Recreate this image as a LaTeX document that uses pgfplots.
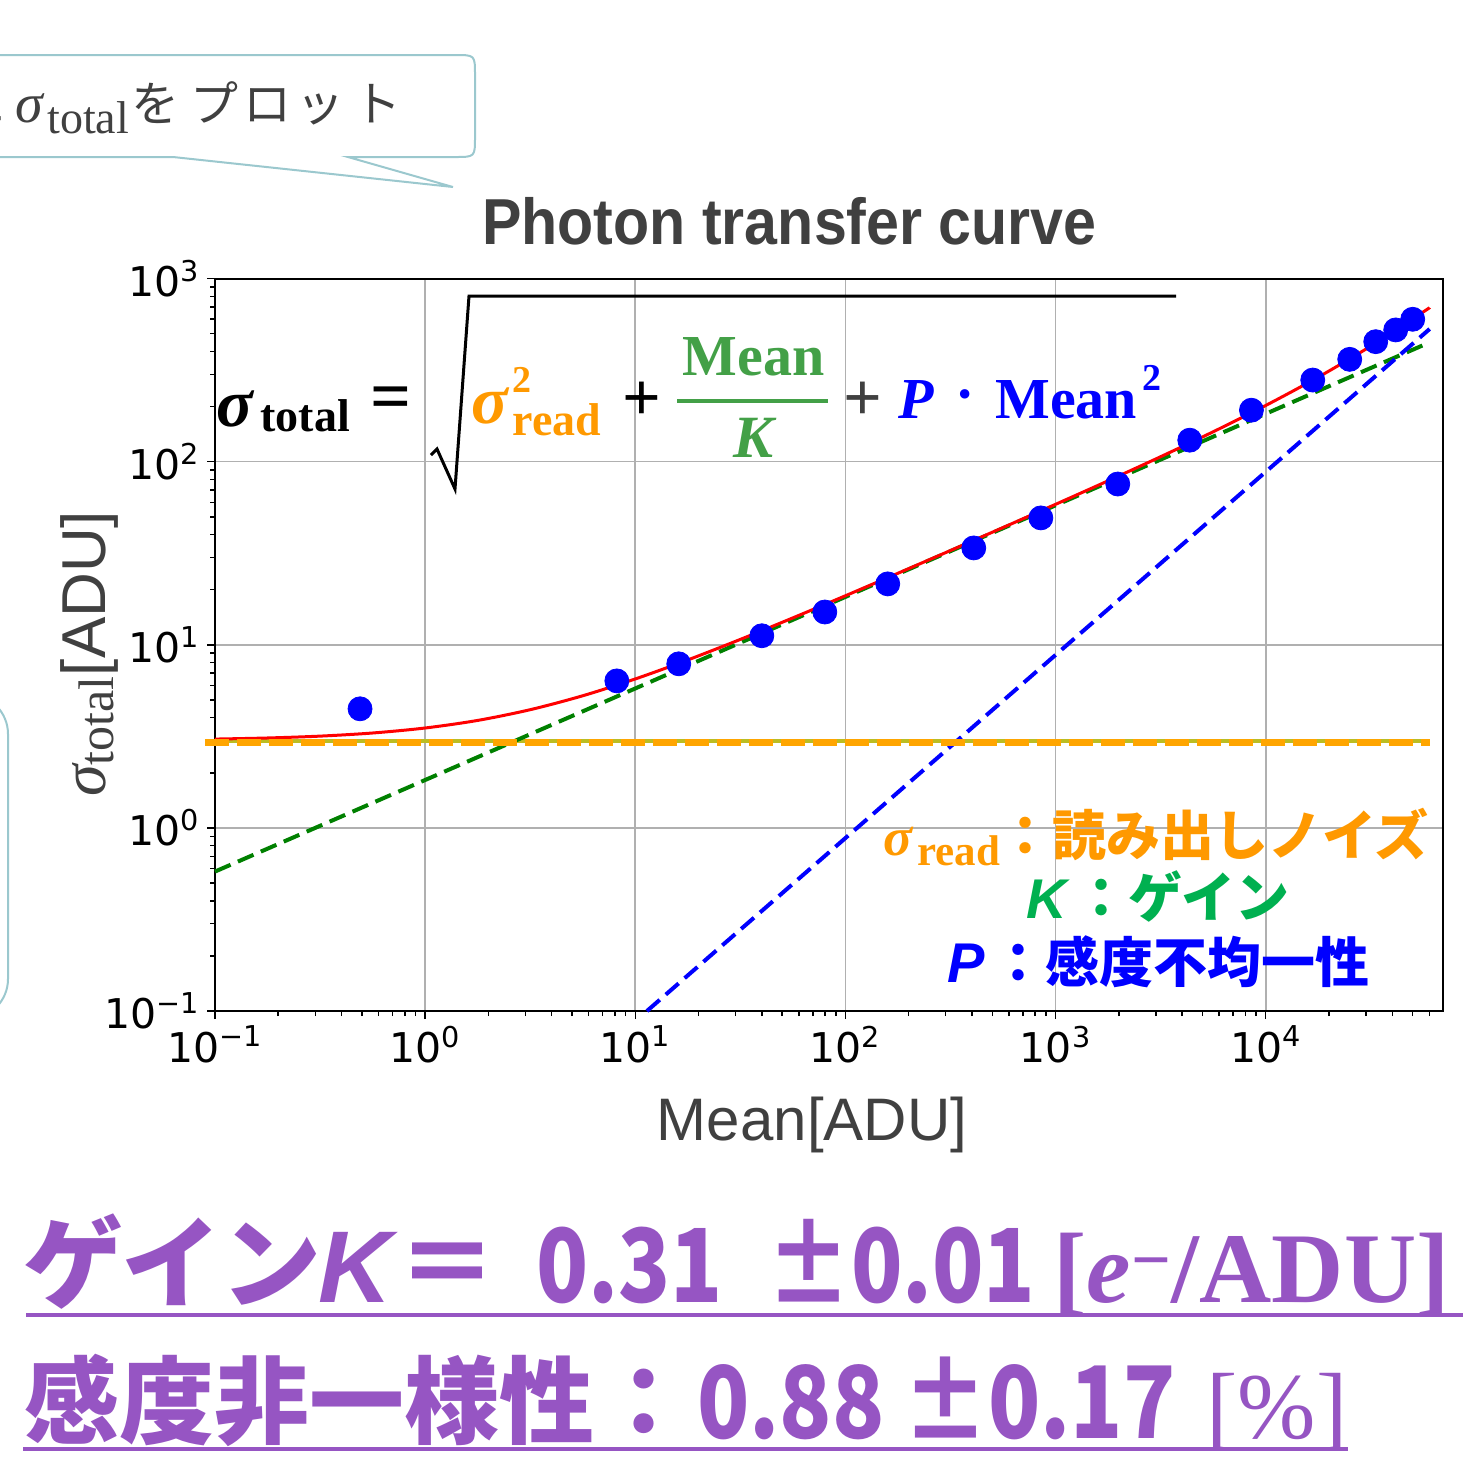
\documentclass[border=0pt]{standalone}
\usepackage{pgfplots}
\pgfplotsset{compat=1.18}
\usepackage{fontspec}
\setmainfont{Liberation Sans}
\newfontfamily\serif{Liberation Serif}
\newfontfamily\dejavu{DejaVu Sans}
\newfontfamily\jp{Noto Sans CJK JP}
\definecolor{gr4}{RGB}{64,64,64}
\definecolor{teal2}{RGB}{155,200,206}
\definecolor{orgT}{RGB}{255,153,0}
\definecolor{orgL}{RGB}{255,165,0}
\definecolor{grT}{RGB}{67,160,71}
\definecolor{grK}{RGB}{0,176,80}
\definecolor{grL}{RGB}{0,128,0}
\definecolor{purp}{RGB}{150,85,195}
\definecolor{olive2}{RGB}{188,189,34}
\definecolor{gridc}{RGB}{176,176,176}
\newcommand{\fsz}[1]{\fontsize{#1pt}{#1pt}\selectfont}
\begin{document}
\begin{tikzpicture}
\useasboundingbox (0,0) rectangle (731.5pt,-728.5pt);
\begin{axis}[at={(107.5pt,-505.5pt)}, anchor=south west,
  width=614pt, height=366.25pt, scale only axis,
  xmode=log, ymode=log, xmin=0.1, xmax=69750, ymin=0.1, ymax=1000,
  xtick={0.1,1,10,100,1000,10000},
  xticklabels={{10\textsuperscript{−1}},{10\textsuperscript{0}},{10\textsuperscript{1}},{10\textsuperscript{2}},{10\textsuperscript{3}},{10\textsuperscript{4}}},
  ytick={0.1,1,10,100,1000},
  yticklabels={{10\textsuperscript{−1}},{10\textsuperscript{0}},{10\textsuperscript{1}},{10\textsuperscript{2}},{10\textsuperscript{3}}},
  minor xtick={0.2,0.3,0.4,0.5,0.6,0.7,0.8,0.9,2,3,4,5,6,7,8,9,20,30,40,50,60,70,80,90,200,300,400,500,600,700,800,900,2000,3000,4000,5000,6000,7000,8000,9000,20000,30000,40000,50000,60000},
  minor ytick={0.2,0.3,0.4,0.5,0.6,0.7,0.8,0.9,2,3,4,5,6,7,8,9,20,30,40,50,60,70,80,90,200,300,400,500,600,700,800,900},
  tick align=outside, xtick pos=left, ytick pos=left,
  major tick length=4pt, minor tick length=2.5pt,
  every tick/.style={black, line width=0.75pt},
  grid=major, major grid style={gridc, line width=0.8pt},
  axis line style={line width=1pt},
  tick label style={font=\dejavu\fsz{20.5}, black},
  clip=false,
]
\addplot[only marks, mark=*, mark size=6pt, mark options={draw=blue, fill=blue}] coordinates {
(0.490,4.47) (8.17,6.35) (16.1,7.87) (40.0,11.2) (79.8,15.1) (159,21.5) (408,33.8) (851,49.3)
(1977,75.5) (4350,131) (8550,191) (16740,279) (25100,362) (33380,452) (41540,524) (50050,599)};
\addplot[olive2, line width=2pt] coordinates {(0.1,2.97) (60256,2.97)};
\addplot[grL, line width=2pt, dash pattern=on 8.5pt off 4pt] coordinates {(0.1,0.5774) (60256,448.2)};
\addplot[blue, line width=2pt, dash pattern=on 8.5pt off 4pt] coordinates {(11.36,0.1) (60256,530.3)};
\addplot[red, line width=1.5pt, smooth] coordinates {
(0.1,3.0551) (0.17783,3.0972) (0.31623,3.1708) (0.56234,3.2977) (1,3.5119) (1.7783,3.8636)
(3.1623,4.4205) (5.6234,5.2673) (10,6.5070) (17.783,8.2645) (31.623,10.700) (56.234,14.025)
(100,18.523) (177.83,24.581) (316.23,32.724) (562.34,43.680) (1000,58.479) (1778.3,78.623)
(3162.3,106.42) (5623.4,145.61) (10000,202.70) (17783,289.44) (31623,427.62) (56234,657.53) (60256,694.28)};
\addplot[orgL, line width=3.5pt, dash pattern=on 12pt off 4pt] coordinates {(0.0896,2.91) (60256,2.91)};
\end{axis}
\begin{scope}[x=0.5pt, y=-0.5pt]
% top callout
\draw[teal2, line width=1pt, fill=white] (-40,55) -- (455,55) .. controls (475,55) .. (475,75) -- (475,137) .. controls (475,157) .. (455,157) -- (348,157) -- (453,187) -- (173,157) -- (-40,157) -- cycle;
\node[anchor=base, inner sep=0, text=gr4, font=\jp\fsz{23}] at (-14,120) {と};
\node[anchor=base west, inner sep=0, text=gr4, font=\serif\itshape\fsz{28}] at (15,122) {σ};
\node[anchor=base west, inner sep=0, text=gr4, font=\serif\fsz{23}] at (47,133) {total};
\foreach \c/\x in {を/155,プ/214,ロ/267,ッ/320,ト/377}{
  \node[anchor=base, inner sep=0, text=gr4, font=\jp\fsz{24}] at (\x,121) {\c};}
% left callout
\draw[teal2, line width=1pt] (-60,694) -- (-32,694) .. controls (-10,694) and (8,712) .. (8,734) -- (8,979) .. controls (8,1001) and (-10,1019) .. (-32,1019) -- (-60,1019);
% title
\node[anchor=base, inner sep=0, text=gr4, font=\bfseries\fsz{32.5}] at (789.5,244) {\scalebox{0.91}[1]{Photon transfer curve}};
% axis labels
\node[anchor=base, inner sep=0, text=gr4, font=\fsz{30}] at (812,1140) {Mean[ADU]};
\node[anchor=base west, rotate=90, inner sep=0, text=gr4, font=\fsz{31}] at (105,797) {{\serif\itshape\fsz{32}σ}\raisebox{-4pt}{\serif\fsz{25}total}[ADU]};
% formula
\draw[black, line width=1.5pt] (431,455) -- (437,449) -- (455,489) -- (469,296) -- (1176,296);
\node[anchor=base west, inner sep=0, font=\serif\bfseries\itshape\fsz{34}] at (216,426) {σ};
\node[anchor=base west, inner sep=0, font=\serif\bfseries\fsz{23}] at (260,431) {total};
\node[anchor=base, inner sep=0, font=\serif\bfseries\fsz{36}] at (391,420) {=};
\node[anchor=base west, inner sep=0, text=orgT, font=\serif\bfseries\itshape\fsz{34}] at (471,423) {σ};
\node[anchor=base west, inner sep=0, text=orgT, font=\serif\bfseries\fsz{19}] at (512,392) {2};
\node[anchor=base west, inner sep=0, text=orgT, font=\serif\bfseries\fsz{23}] at (512,435) {read};
\node[anchor=base, inner sep=0, font=\serif\bfseries\fsz{34}] at (642,420) {+};
\draw[grT, line width=2pt] (677,401) -- (828,401);
\node[anchor=base, inner sep=0, text=grT, font=\serif\bfseries\fsz{29}] at (753.5,375) {Mean};
\node[anchor=base, inner sep=0, text=grT, font=\serif\bfseries\itshape\fsz{30}] at (753.5,457) {K};
\node[anchor=base, inner sep=0, text=gr4, font=\serif\bfseries\fsz{34}] at (863,420) {+};
\node[anchor=base west, inner sep=0, text=blue, font=\serif\bfseries\itshape\fsz{29}] at (898,418) {P};
\node[anchor=base, inner sep=0, text=blue, font=\serif\bfseries\fsz{29}] at (965,413) {·};
\node[anchor=base west, inner sep=0, text=blue, font=\serif\bfseries\fsz{29}] at (995,418) {Mean};
\node[anchor=base west, inner sep=0, text=blue, font=\serif\bfseries\fsz{19}] at (1142,390) {2};
% legend text
\node[anchor=base west, inner sep=0, text=orgT, font=\serif\bfseries\itshape\fsz{27}] at (883,855) {σ};
\node[anchor=base west, inner sep=0, text=orgT, font=\serif\bfseries\fsz{21.5}] at (917,865) {read};
\node[anchor=base east, inner sep=0, text=orgT, font=\jp\bfseries\fsz{27}] at (1429,855) {：読み出しノイズ};
\node[anchor=base west, inner sep=0, text=grK, font=\bfseries\itshape\fsz{28}] at (1026,918) {K};
\node[anchor=base east, inner sep=0, text=grK, font=\jp\bfseries\fsz{27}] at (1290,917) {：ゲイン};
\node[anchor=base west, inner sep=0, text=blue, font=\bfseries\itshape\fsz{28}] at (947,982) {P};
\node[anchor=base east, inner sep=0, text=blue, font=\jp\bfseries\fsz{27}] at (1370,982) {：感度不均一性};
% bottom text
\node[anchor=base west, inner sep=0, text=purp, font=\jp\bfseries\fsz{50}] at (23,1300) {ゲイン};
\node[anchor=base west, inner sep=0, text=purp, font=\bfseries\itshape\fsz{51}] at (318,1302) {K};
\node[anchor=base, inner sep=0, text=purp, font=\jp\bfseries\fsz{50}] at (447,1300) {＝};
\node[anchor=base west, inner sep=0, text=purp, font=\jp\bfseries\fsz{51}] at (536,1302) {\scalebox{0.84}[1]{0.31}};
\node[anchor=base west, inner sep=0, text=purp, font=\jp\bfseries\fsz{51}] at (766,1302) {\scalebox{0.83}[1]{±0.01}};
\node[anchor=base west, inner sep=0, text=purp, font=\serif\bfseries\fsz{50}] at (1053,1302) {[\textit{e}\textsuperscript{−}/ADU]};
\draw[purp, line width=2pt] (26,1315) -- (1470,1315);
\node[anchor=base west, inner sep=0, text=purp, font=\jp\bfseries\fsz{47.5}] at (24,1436) {感度非一様性};
\node[anchor=base, inner sep=0, text=purp, font=\jp\bfseries\fsz{47.5}] at (644,1436) {：};
\node[anchor=base west, inner sep=0, text=purp, font=\jp\bfseries\fsz{50}] at (697,1438) {\scalebox{0.86}[1]{0.88}};
\node[anchor=base west, inner sep=0, text=purp, font=\jp\bfseries\fsz{50}] at (902,1438) {\scalebox{0.86}[1]{±0.17}};
\node[anchor=base west, inner sep=0, text=purp, font=\serif\fsz{47}] at (1206,1438) {[\%]};
\draw[purp, line width=2pt] (23,1449) -- (1348,1449);
\end{scope}
\end{tikzpicture}
\end{document}
